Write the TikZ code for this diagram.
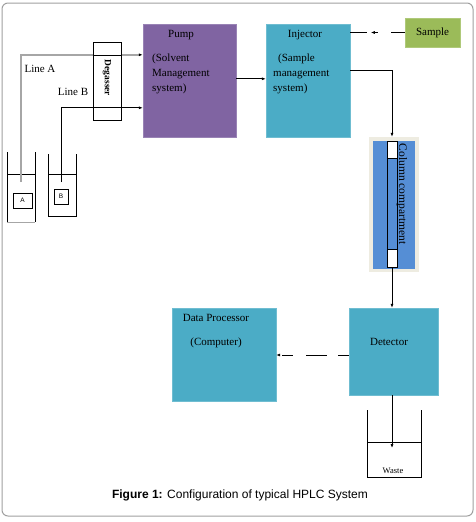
\documentclass[tikz,border=0pt]{standalone}
\usepackage{fontspec}
\setmainfont{Liberation Serif}
\newfontfamily\capfont{Liberation Sans}
\usepackage{tikz}
\usetikzlibrary{arrows.meta,positioning,calc,shadows}
\definecolor{pumpviolet}{HTML}{8064A2}
\definecolor{pumpedge}{HTML}{4F3B68}
\definecolor{unitblue}{HTML}{4BACC6}
\definecolor{unitedge}{HTML}{245F70}
\definecolor{samplegreen}{HTML}{9BBB59}
\definecolor{sampleedge}{HTML}{5E7530}
\definecolor{colbeige}{HTML}{EEECE1}
\definecolor{colblue}{HTML}{558ED5}
\definecolor{lineagray}{HTML}{A6A6A6}
\definecolor{framegray}{HTML}{A0A0A0}

\begin{document}
\begin{tikzpicture}[x=1pt, y=-1pt,
      unit/.style={fill=unitblue, draw=unitblue!80!white, line width=0.4pt, inner sep=0pt, drop shadow={shadow xshift=1pt, shadow yshift=-1pt, fill=unitedge, opacity=1}},
      pumpbox/.style={fill=pumpviolet, draw=pumpviolet!80!white, line width=0.4pt, inner sep=0pt, drop shadow={shadow xshift=1pt, shadow yshift=-1pt, fill=pumpedge, opacity=1}},
      samplebox/.style={fill=samplegreen, draw=samplegreen!80!white, line width=0.4pt, inner sep=0pt, font=\fontsize{11}{12}\selectfont, drop shadow={shadow xshift=1pt, shadow yshift=-1pt, fill=sampleedge, opacity=1}},
      lbl/.style={font=\fontsize{11}{15}\selectfont, inner sep=0pt},
      body/.style={lbl, align=left, anchor=north west},
      vial/.style={draw, line width=0.6pt, inner sep=0pt, font=\capfont\fontsize{6.5}{7}\selectfont},
      plain/.style={line width=0.7pt},
      flow/.style={-{Latex[length=4pt,width=3pt]}, line width=0.7pt},
      lineastyle/.style={-{Latex[black,length=4pt,width=3pt]}, draw=lineagray, line width=1.5pt},
      dataflow/.style={-{Latex[length=4pt,width=3pt]}, line width=0.7pt, dash pattern=on 11pt off 11pt on 21pt off 13pt}
    ]
    \useasboundingbox (0,0) rectangle (476,522);
    \draw[framegray, line width=1pt, rounded corners=6pt] (2,3) rectangle (473,516);

    \node[pumpbox, minimum width=93pt, minimum height=113pt] (pump) at (189.5,80.5) {};
    \node[unit, minimum width=84pt, minimum height=113pt] (injector) at (308,80.5) {};
    \node[samplebox, minimum width=55pt, minimum height=29pt] (sample) at (432.5,32.5) {Sample};
    \node[fill=colbeige, minimum width=50pt, minimum height=135pt, inner sep=0pt] (column) at (394,204.5) {};
    \node[fill=colblue, minimum width=42pt, minimum height=128pt, inner sep=0pt] (colinner) at (394,205) {};
    \node[draw, line width=0.8pt, fill=colblue, minimum width=10pt, minimum height=126pt, inner sep=0pt] (tube) at (392,204) {};
    \node[unit, minimum width=89pt, minimum height=87pt] (detector) at (393.5,351.5) {};
    \node[unit, minimum width=104pt, minimum height=93pt] (dataproc) at (224,354.5) {};

    \node[lbl] (pumptitle) at (181,35) {Pump};
    \node[body] (pumptext) at (152,54) {(Solvent\\Management\\system)};
    \node[lbl] (injtitle) at (305,35) {Injector};
    \node[body] (injtext) at (273,54) {\hspace{5pt}(Sample\\management\\system)};
    \node[lbl] (dettitle) at (389,342) {Detector};
    \node[lbl] (dptitle) at (216,318) {Data Processor};
    \node[lbl] (dptext) at (216,343) {(Computer)};
    \node[lbl, font=\fontsize{11.5}{13}\selectfont, rotate=-90] (coltext) at (402,194) {Column compartment};
    \node[lbl] (lineatext) at (40,69) {Line A};
    \node[lbl] (linebtext) at (73,92) {Line B};

    \draw[line width=0.8pt, fill=white] (387,141) rectangle (397,158);
    \draw[line width=0.8pt, fill=white] (387,249) rectangle (397,267);

    \draw[line width=0.6pt] (7,152) -- (7,222) (35,152) -- (35,222) (7,174) -- (35,174);
    \draw[lineagray, line width=0.8pt] (7,222) -- (35,222);
    \draw[line width=0.6pt] (48,154) -- (48,216) -- (76,216) -- (76,154) (48,174) -- (76,174);
    \node[vial, minimum width=19pt, minimum height=15pt] (vialA) at (22.5,200.5) {A};
    \node[vial, minimum width=14pt, minimum height=15pt] (vialB) at (61,196.5) {B};
    \coordinate (lineAstart) at (21,182);
    \coordinate (lineBstart) at (61,182);

    \draw[lineastyle] (lineAstart) |- ([yshift=-31pt]pump.north west);
    \node[draw, fill=white, line width=0.6pt, minimum width=28pt, minimum height=78pt, inner sep=0pt] (degasser) at (107,81) {};
    \draw[line width=0.6pt] ([yshift=-14pt]degasser.north west) -- ([yshift=-14pt]degasser.north east);
    \node[lbl, font=\bfseries\fontsize{9.5}{11}\selectfont, rotate=-90] (degtext) at (107,78) {Degasser};
    \draw[flow] (lineBstart) |- ([yshift=-84pt]pump.north west);

    \draw[flow] ([yshift=-55pt]pump.north east) -- ([yshift=-55pt]injector.north west);
    \draw[plain] (sample.west) -- ([xshift=-14pt]sample.west);
    \draw[flow] ([xshift=-27pt]sample.west) -- ([xshift=-34pt]sample.west);
    \draw[plain] ([xshift=-38pt]sample.west) -- (sample.west -| injector.east);
    \draw[flow] ([yshift=-47pt]injector.north east) -| (tube.north |- column.north);
    \draw[plain] (tube.south) -- (column.south -| tube.south);
    \draw[flow] (column.south -| tube.south) -- (tube.south |- detector.north);
    \draw[dataflow] ([yshift=-3.5pt]detector.west) -- ([yshift=-3.5pt]detector.west -| dataproc.east);

    \draw[line width=0.6pt] (367,410) -- (367,477) -- (421,477) -- (421,410) (367,442) -- (421,442);
    \coordinate (wastein) at (392,448);
    \node[lbl, font=\fontsize{8.5}{9}\selectfont] (wastetext) at (393,471) {Waste};
    \draw[flow] (detector.south -| wastein) -- (wastein);

    \node[lbl, font=\capfont\fontsize{12}{14}\selectfont] (caption) at (240,495) {\textbf{Figure 1:} Configuration of typical HPLC System};
  \end{tikzpicture}
\end{document}
